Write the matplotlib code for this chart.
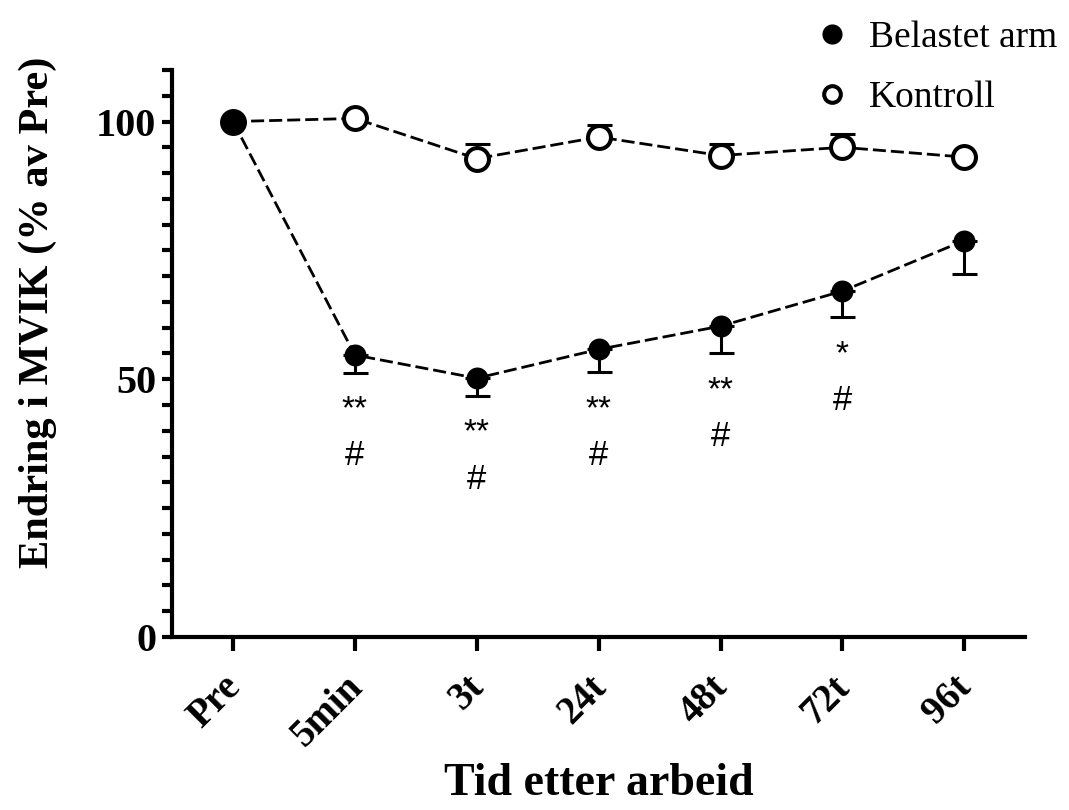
import matplotlib
matplotlib.use("Agg")
import matplotlib.pyplot as plt
import matplotlib.transforms as mtransforms
from matplotlib.ticker import MultipleLocator
from matplotlib.lines import Line2D

# Time points and group means (% of Pre)
timepoints = ["Pre", "5min", "3t", "24t", "48t", "72t", "96t"]
belastet = [100.0, 54.7, 50.2, 55.8, 60.3, 67.1, 76.9]
belastet_sem = [0.0, 3.4, 3.4, 4.4, 5.3, 5.0, 6.4]
kontroll = [100.0, 100.6, 92.8, 97.0, 93.4, 95.0, 93.1]
kontroll_sem = [0.0, 0.0, 2.9, 2.4, 2.3, 2.6, 0.0]

# Significance markers drawn under each loaded-arm point
stars = ["", "**", "**", "**", "**", "*", ""]
hashes = ["", "#", "#", "#", "#", "#", ""]

serif = "Liberation Serif"
sans = "Liberation Sans"

fig = plt.figure(figsize=(10.69, 8.10), dpi=100)
ax = fig.add_axes([0.161, 0.2136, 0.798, 0.700])

x = list(range(len(timepoints)))
dash = (0, (4.7, 1.8))

# control group: open circles, upper error bars only
ax.errorbar(x, kontroll, yerr=[[0] * len(x), kontroll_sem], fmt="none",
            ecolor="black", elinewidth=2.2, capsize=9, capthick=2.2, zorder=2)
ax.plot(x, kontroll, color="black", lw=2, linestyle=dash, zorder=2)
ax.plot(x, kontroll, "o", ms=16.5, mfc="white", mec="black", mew=2.9, zorder=3)

# loaded arm: filled circles, lower error bars only
ax.errorbar(x, belastet, yerr=[belastet_sem, [0] * len(x)], fmt="none",
            ecolor="black", elinewidth=2.2, capsize=9, capthick=2.2, zorder=2)
ax.plot(x, belastet, color="black", lw=2, linestyle=dash, zorder=2)
ax.plot(x, belastet, "o", ms=15.8, mfc="black", mec="black", mew=0, zorder=4)

for i in x:
    low = belastet[i] - belastet_sem[i]
    if stars[i]:
        ax.annotate(stars[i], (i, low), xytext=(0, -27), textcoords="offset points",
                    ha="center", va="center", fontsize=24, family=sans)
    if hashes[i]:
        ax.annotate(hashes[i], (i, low), xytext=(0, -60), textcoords="offset points",
                    ha="center", va="center", fontsize=25, family=sans)

ax.set_xlim(-0.5, 6.5)
ax.set_ylim(0, 110)
ax.set_xticks(x)
ax.set_xticklabels(timepoints, rotation=45, ha="right", rotation_mode="anchor",
                   family=serif, fontweight="bold", fontsize=28)
ax.set_yticks([0, 50, 100])
ax.set_yticklabels(["0", "50", "100"], family=serif, fontweight="bold", fontsize=29)
ax.yaxis.set_minor_locator(MultipleLocator(5))

for side in ["top", "right"]:
    ax.spines[side].set_visible(False)
for side in ["left", "bottom"]:
    ax.spines[side].set_linewidth(3)
ax.tick_params(axis="y", which="both", length=7.5, width=3, pad=4)
ax.tick_params(axis="x", length=10, width=3, pad=4)

# nudge the rotated category labels down and to the left
shift = mtransforms.ScaledTranslation(-0.11, -0.12, fig.dpi_scale_trans)
for lab in ax.get_xticklabels():
    lab.set_transform(lab.get_transform() + shift)

ax.set_xlabel("Tid etter arbeid", family=serif, fontweight="bold", fontsize=33)
ax.xaxis.set_label_coords(0.5, -0.222)
ax.set_ylabel("Endring i MVIK (% av Pre)", family=serif, fontweight="bold", fontsize=30.5)
ax.yaxis.set_label_coords(-0.135, 0.573)

handles = [
    Line2D([], [], ls="none", marker="o", ms=14.5, mfc="black", mec="black", mew=0),
    Line2D([], [], ls="none", marker="o", ms=12, mfc="white", mec="black", mew=2.9),
]
fig.legend(handles, ["Belastet arm", "Kontroll"], loc="upper right",
           bbox_to_anchor=(1.021, 1.016), frameon=False, handletextpad=0.0,
           labelspacing=0.68, prop={"family": serif, "size": 27})

fig.savefig("out.png", dpi=100)
